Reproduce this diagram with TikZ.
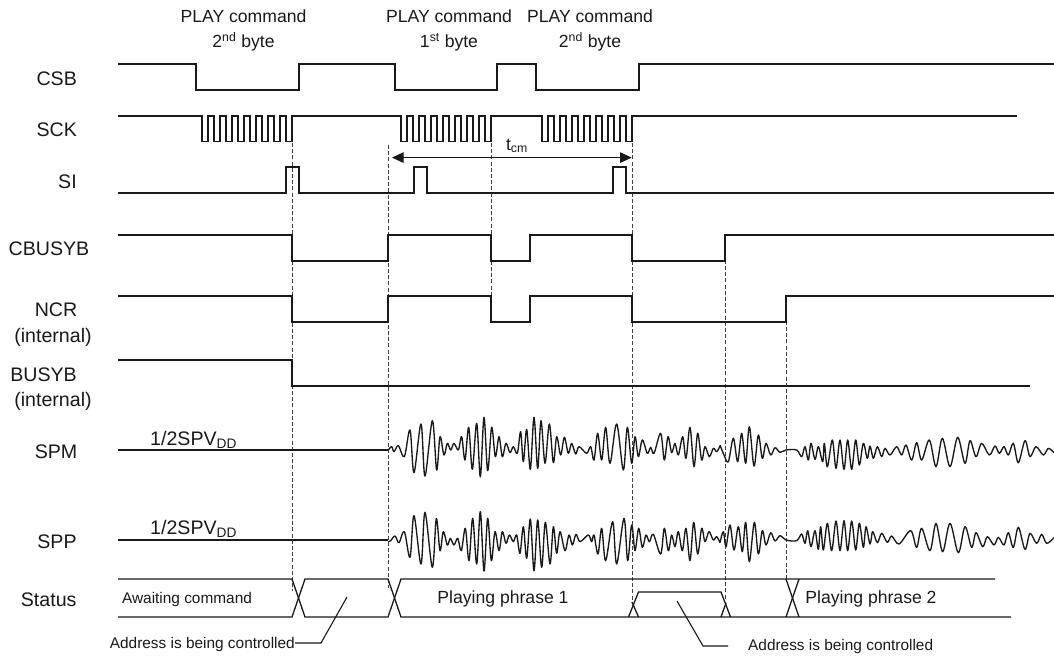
\documentclass[tikz,border=0pt]{standalone}
\usepackage{fontspec}
\setmainfont{Liberation Sans}
\usetikzlibrary{arrows.meta}
\tikzset{
  wire/.style={line width=1.3pt,line join=miter,black!90},
  wave/.style={line width=1.35pt,line join=round,black!90},
  dashline/.style={line width=0.75pt,dash pattern=on 4pt off 2.2pt,black!75},
  lbl/.style={inner sep=0pt,font=\fontsize{19.6}{23}\selectfont,align=center,text=black!90},
  title/.style={inner sep=0pt,font=\fontsize{17.6}{21}\selectfont,align=center,text=black!90},
  small/.style={inner sep=0pt,font=\fontsize{15.4}{18}\selectfont,text=black!90},
  leader/.style={line width=1.1pt,black!90},
  dim/.style={line width=0.8pt,black!90,{Triangle[length=11.5pt,width=10.5pt]}-{Triangle[length=11.5pt,width=10.5pt]}}
}
\begin{document}
\begin{tikzpicture}[x=1pt,y=-1pt]
\useasboundingbox (0,0) rectangle (1054,659);
% titles
\node[title] (t1) at (243.5,16) {PLAY command};
\node[title] (t1b) at (243.5,42) {2\textsuperscript{nd} byte};
\node[title] (t2) at (449,16) {PLAY command};
\node[title] (t2b) at (449,42) {1\textsuperscript{st} byte};
\node[title] (t3) at (590,16) {PLAY command};
\node[title] (t3b) at (590,42) {2\textsuperscript{nd} byte};
% labels
\node[lbl] (csb) at (56.7,79) {CSB};
\node[lbl] (sck) at (56.7,130) {SCK};
\node[lbl] (si) at (67.5,182) {SI};
\node[lbl] (cbusyb) at (49,249) {CBUSYB};
\node[lbl] (ncr) at (56,310) {NCR};
\node[lbl] (ncri) at (53,337) {(internal)};
\node[lbl] (busyb) at (43.5,375) {BUSYB};
\node[lbl] (busyi) at (53,401) {(internal)};
\node[lbl] (spm) at (56,452) {SPM};
\node[lbl] (spp) at (57,542) {SPP};
\node[lbl] (status) at (48.7,600) {Status};
\node[lbl,anchor=base west] (vdd1) at (150,445) {1/2SPV\textsubscript{DD}};
\node[lbl,anchor=base west] (vdd2) at (150,534) {1/2SPV\textsubscript{DD}};
\node[title] (tcm) at (517,146) {t\textsubscript{cm}};
\node[small] (await) at (187,600) {Awaiting command};
\node[title] (ph1) at (503,599) {Playing phrase 1};
\node[title] (ph2) at (871,599) {Playing phrase 2};
\node[small,anchor=east] (ad1) at (295,645) {Address is being controlled};
\node[small,anchor=west] (ad2) at (748,647) {Address is being controlled};
% dashed
\draw[dashline] (292,143) -- (292,591);
\draw[dashline] (388,145) -- (388,588);
\draw[dashline] (491,143) -- (491,296);
\draw[dashline] (632,143) -- (632,600);
\draw[dashline] (725,235) -- (725,600);
\draw[dashline] (786,296) -- (786,579);
% CSB
\draw[wire] (118,64) -| (196,90) -| (299,64) -| (395,90) -| (497,64) -| (536,90) -| (639,64) -- (1054,64);
% SCK
\draw[wire] (118,116) -- (202,116)
  \foreach \k in {0,...,7} {-- ++(0,25.5) -- ++(6,0) -- ++(0,-25.5) \ifnum\k<7 -- ++(6,0)\fi}
  -- (401,116)
  \foreach \k in {0,...,7} {-- ++(0,25.5) -- ++(6,0) -- ++(0,-25.5) \ifnum\k<7 -- ++(6,0)\fi}
  -- (542,116)
  \foreach \k in {0,...,7} {-- ++(0,25.5) -- ++(6,0) -- ++(0,-25.5) \ifnum\k<7 -- ++(6,0)\fi}
  -- (1017,116);
% SI
\draw[wire] (118,193) -| (286,167) -| (299,193) -| (414,167) -| (427,193) -| (613,167) -| (626,193) -- (1054,193);
% CBUSYB
\draw[wire] (118,235) -| (292,261) -| (388,235) -| (491,261) -| (530,235) -| (632,261) -| (725,235) -- (1054,235);
% NCR
\draw[wire] (118,296) -| (292,322) -| (388,296) -| (491,322) -| (530,296) -| (632,322) -| (786,296) -- (1054,296);
% BUSYB
\draw[wire] (118,360) -| (292,386) -- (1030,386);
% baselines
\draw[wave] (118,450) -- (388,450);
\draw[wave] (118,540) -- (388,540);
% SPM
\begin{scope}[shift={(370,400)},x=0.33333pt,y=-0.33333pt]
\draw[wave] plot[smooth,tension=0.55] coordinates {(55,150) (65,140) (72,155) (85,137) (103,170) (120,90) (132,218) (153,72) (165,228) (187,62) (200,210) (210,110) (222,165) (232,130) (242,150) (252,130) (265,150) (275,110) (285,180) (296,82) (307,208) (320,70) (331,230) (342,52) (353,212) (365,82) (376,170) (387,110) (397,170) (408,130) (420,158) (430,140) (442,160) (452,95) (460,185) (470,88) (481,208) (492,52) (503,205) (513,62) (525,190) (538,72) (550,188) (560,110) (572,165) (583,112) (595,160) (605,130) (617,162) (627,140) (650,160) (662,140) (672,180) (683,100) (695,180) (707,82) (720,190) (740,72) (760,210) (772,82) (785,190) (795,110) (805,170) (817,120) (832,160) (842,142) (852,160) (872,100) (883,180) (894,110) (905,158) (915,130) (925,165) (938,110) (948,175) (960,82) (972,200) (983,100) (995,180) (1005,140) (1018,170) (1030,145) (1040,155) (1050,138)};
\end{scope}
\begin{scope}[shift={(700,400)},x=0.33333pt,y=-0.33333pt]
\draw[wave] plot[smooth,tension=0.55] coordinates {(60,135) (72,165) (85,185) (100,115) (113,185) (125,100) (137,190) (148,80) (162,198) (175,105) (187,175) (198,130) (212,165) (225,143) (240,157) (258,150) (290,150) (305,170) (315,140) (325,180) (333,130) (345,178) (355,140) (368,185) (373,130) (382,200) (397,120) (408,205) (420,120) (432,208) (443,120) (455,208) (467,120) (478,195) (490,130) (502,175) (510,138) (520,175) (532,140) (545,170) (555,145) (570,165) (590,140) (605,165) (618,135) (635,180) (650,128) (665,180) (688,120) (708,200) (727,115) (750,200) (773,112) (795,190) (810,122) (828,170) (845,130) (868,165) (885,138) (898,160) (912,140) (925,165) (940,130) (955,188) (975,122) (990,170) (1008,140) (1030,165) (1045,145) (1062,158)};
\end{scope}
% SPP
\begin{scope}[shift={(370,490)},x=0.33333pt,y=-0.33333pt]
\draw[wave] plot[smooth,tension=0.55] coordinates {(55,155) (62,152) (75,138) (87,158) (103,125) (120,202) (132,77) (153,222) (165,67) (187,232) (199,86) (210,182) (220,125) (232,165) (241,145) (252,165) (263,145) (274,182) (286,115) (297,212) (308,85) (320,222) (331,65) (342,243) (353,85) (364,212) (375,125) (387,182) (397,125) (408,160) (418,135) (430,155) (440,135) (450,190) (460,110) (470,205) (481,87) (492,242) (503,90) (515,232) (526,97) (540,222) (550,110) (560,190) (570,125) (585,182) (597,135) (607,165) (618,133) (630,155) (655,135) (665,155) (672,135) (684,192) (695,115) (707,212) (728,95) (740,222) (762,85) (773,212) (785,105) (795,182) (806,115) (817,172) (828,135) (838,155) (850,133) (872,192) (883,115) (895,182) (905,135) (915,170) (925,125) (937,182) (948,115) (960,212) (971,97) (983,192) (995,115) (1005,155) (1017,125) (1030,150) (1040,140) (1050,158)};
\end{scope}
\begin{scope}[shift={(700,490)},x=0.33333pt,y=-0.33333pt]
\draw[wave] plot[smooth,tension=0.55] coordinates {(60,158) (70,125) (78,170) (90,105) (102,180) (115,110) (127,185) (137,97) (148,215) (163,97) (175,192) (187,122) (198,165) (212,128) (225,153) (240,137) (258,150) (290,152) (305,132) (315,160) (323,122) (333,170) (345,122) (355,178) (362,110) (370,180) (382,100) (395,182) (408,93) (420,182) (432,92) (443,182) (455,93) (467,180) (478,100) (490,172) (498,110) (510,162) (518,125) (532,158) (545,130) (562,157) (575,138) (597,162) (632,122) (650,172) (665,115) (690,182) (708,100) (728,185) (750,100) (775,188) (795,110) (815,172) (828,128) (848,170) (862,140) (882,165) (895,142) (912,165) (925,128) (940,172) (955,112) (975,178) (990,130) (1010,160) (1025,133) (1040,160) (1062,143)};
\end{scope}
% Status
\draw[wire] (118,579) -- (292,579) -- (305,617) -- (388,617) -- (401,579) -- (995,579);
\draw[wire] (118,617) -- (292,617) -- (305,579) -- (388,579) -- (401,617) -- (1011,617);
\draw[wire] (628.5,617) -- (638.5,592) -- (721,592) -- (730.5,617);
\draw[wire] (632,602) -- (638.5,617);
\draw[wire] (721,617) -- (726,603);
\draw[wire] (786,579) -- (799,617);
\draw[wire] (786,617) -- (799,579);
% leaders
\draw[leader] (347,597) -- (321,643) -- (ad1.east |- 321,643);
\draw[leader] (677,601) -- (703,646) -- (728,646);
% dimension
\draw[dim] (392,157.6) -- (631.7,157.6);
\end{tikzpicture}
\end{document}
